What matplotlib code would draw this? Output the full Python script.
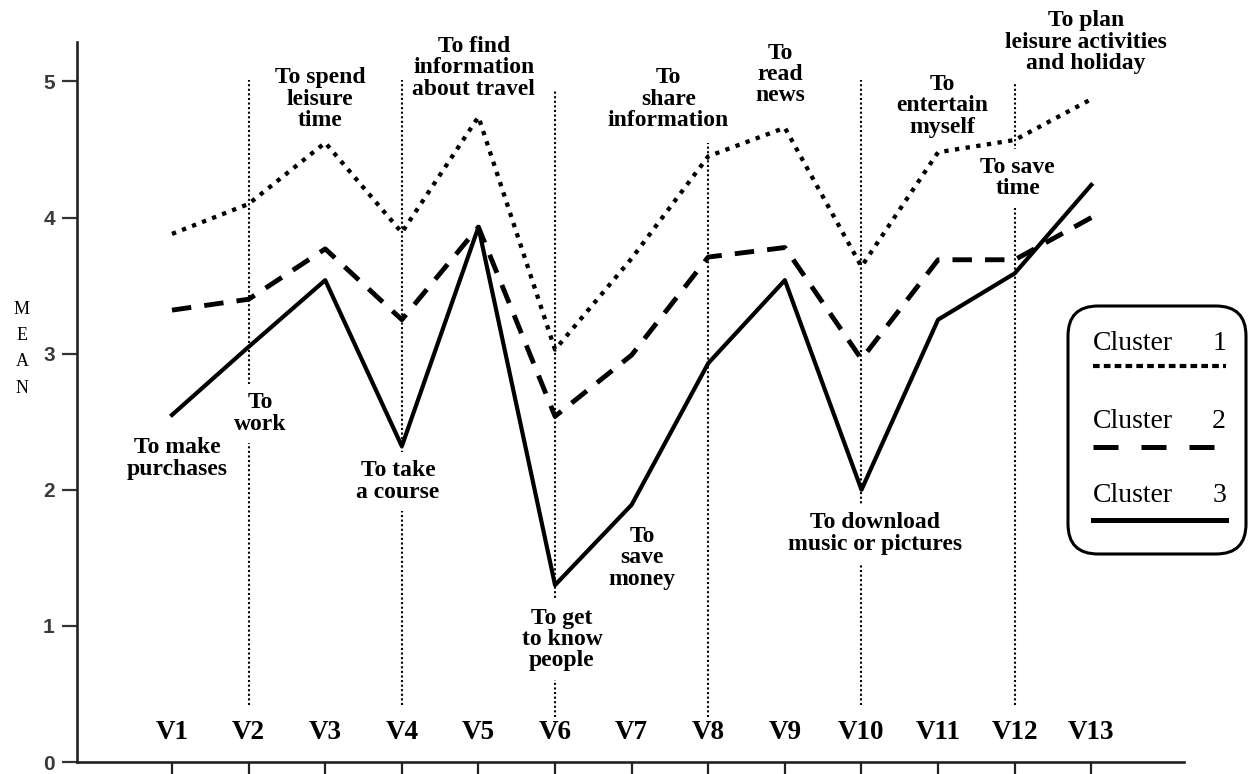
import matplotlib.pyplot as plt
from matplotlib.patches import FancyBboxPatch
from matplotlib.lines import Line2D

# mean score per variable for each cluster
variables = ['V1', 'V2', 'V3', 'V4', 'V5', 'V6', 'V7',
             'V8', 'V9', 'V10', 'V11', 'V12', 'V13']
cluster1 = [3.88, 4.10, 4.55, 3.89, 4.74, 3.03, 3.70, 4.45, 4.66, 3.64, 4.48, 4.57, 4.87]
cluster2 = [3.32, 3.40, 3.77, 3.25, 3.93, 2.54, 2.99, 3.71, 3.78, 2.96, 3.69, 3.69, 4.00]
cluster3 = [2.55, 3.05, 3.54, 2.32, 3.93, 1.30, 1.89, 2.93, 3.54, 2.00, 3.25, 3.59, 4.24]

reasons = ['To make\npurchases', 'To\nwork', 'To spend\nleisure\ntime',
           'To take\na course', 'To find\ninformation\nabout travel',
           'To get\nto know\npeople', 'To\nsave\nmoney', 'To\nshare\ninformation',
           'To\nread\nnews', 'To download\nmusic or pictures',
           'To\nentertain\nmyself', 'To save\ntime',
           'To plan\nleisure activities\nand holiday']

serif = 'Liberation Serif'

fig = plt.figure(figsize=(12.5, 7.74), dpi=100)
ax = fig.add_axes([77 / 1250, 12 / 774, (1184 - 77) / 1250, (762 - 42) / 774])
xs = list(range(1, len(variables) + 1))

# dotted guide lines at the even variables (top, bottom in data units)
guides = {2: (5.01, 0.42), 4: (5.01, 0.42), 6: (4.94, 0.33),
          8: (4.55, 0.33), 10: (5.01, 0.42), 12: (5.01, 0.42)}
for gx, (top, bot) in guides.items():
    ax.plot([gx, gx], [bot, top], color='black', lw=1.5,
            linestyle=(0, (1, 1.2)), zorder=1)

ax.plot(xs, cluster1, color='black', lw=3.1, linestyle=(0, (1.0, 1.5)),
        dash_capstyle='butt', zorder=5)
ax.plot(xs, cluster2, color='black', lw=3.5, linestyle=(0, (4, 2.7)),
        dash_capstyle='butt', zorder=5)
ax.plot(xs, cluster3, color='black', lw=3.0, zorder=5)

# label placement (x, y in data units)
label_pos = [(1.07, 2.23), (2.15, 2.56), (2.93, 4.87), (3.95, 2.06),
             (4.94, 5.10), (6.09, 0.90), (7.14, 1.50), (7.48, 4.87),
             (8.94, 5.05), (10.18, 1.68), (11.05, 4.82), (12.04, 4.29),
             (12.93, 5.29)]
for txt, (lx, ly) in zip(reasons, label_pos):
    ax.text(lx, ly, txt, ha='center', va='center', family=serif,
            fontweight='bold', fontsize=17, linespacing=1.02, zorder=3,
            bbox=dict(boxstyle='square,pad=0.35', fc='white', ec='none'))

for x, name in zip(xs, variables):
    ax.text(x, 0.22, name, ha='center', va='center', family=serif,
            fontweight='bold', fontsize=19.5, zorder=3)

ax.set_xlim(-0.24, 14.21)
ax.set_ylim(0, 5.29)
ax.set_xticks(xs)
ax.set_xticklabels([])
ax.set_yticks(range(6))
ax.set_yticklabels([str(v) for v in range(6)], family='Liberation Sans',
                   fontweight='bold', fontsize=15, color='#3a3a3a')
ax.tick_params(axis='x', direction='out', length=9, width=1.6, color='#222222')
ax.tick_params(axis='y', direction='out', length=11, width=1.6, color='#333333', pad=5)
for side in ['top', 'right']:
    ax.spines[side].set_visible(False)
for side in ['left', 'bottom']:
    ax.spines[side].set_linewidth(1.9)
    ax.spines[side].set_color('#222222')

# stacked y label
for i, ch in enumerate('MEAN'):
    fig.text(22 / 1250, 1 - (310 + i * 26) / 774, ch, ha='center', va='center',
             family=serif, fontsize=13)

# hand-made legend box (figure inches)
tr = fig.dpi_scale_trans
box = FancyBboxPatch((10.68, 2.20), 1.78, 2.48,
                     boxstyle='round,pad=0,rounding_size=0.3',
                     fc='white', ec='black', lw=2.2, transform=tr)
fig.add_artist(box)
legend_rows = [('1', 4.31, 4.08, 12.26, dict(lw=3.0, linestyle=(0, (1.6, 1.0)))),
               ('2', 3.52, 3.27, 12.15, dict(lw=3.6, linestyle=(0, (5.0, 4.6)))),
               ('3', 2.79, 2.54, 12.26, dict(lw=3.6))]
for num, ty, ly, x_end, style in legend_rows:
    fig.text(10.93, ty, 'Cluster', transform=tr, ha='left', va='center',
             family=serif, fontsize=20)
    fig.text(12.26, ty, num, transform=tr, ha='right', va='center',
             family=serif, fontsize=20)
    fig.add_artist(Line2D([10.93, x_end], [ly, ly], color='black',
                          dash_capstyle='butt', transform=tr, **style))

fig.savefig('out.png', dpi=100)
